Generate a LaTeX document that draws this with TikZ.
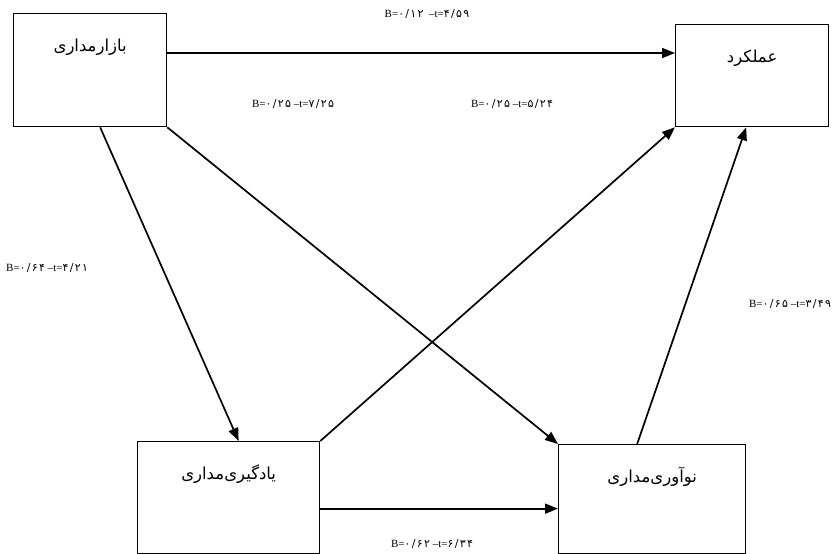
\documentclass[tikz,border=0pt]{standalone}
\usepackage{fontspec}
\setmainfont{Liberation Serif}
\newfontfamily\arabicfont[Script=Arabic]{DejaVu Sans}
\newfontfamily\digitfont[Script=Arabic,LetterSpace=12]{DejaVu Sans}
\TeXXeTstate=1
\usetikzlibrary{arrows.meta}
\newcommand\fa[1]{{\digitfont #1}}
\tikzset{
  box/.style={draw, line width=1.3pt, inner sep=0pt, anchor=north west,
    text height=38pt, font=\arabicfont\fontsize{16.5}{19}\selectfont},
  coef/.style={inner sep=0pt, font=\fontsize{11}{13}\selectfont},
  link/.style={-{Triangle[length=13pt,width=10pt]}, line width=1.7pt}
}
\begin{document}
\begin{tikzpicture}[x=1pt, y=-1pt]
  \useasboundingbox (0,0) rectangle (833,554);
  % Define boxes
  \node[box, minimum width=153pt, text depth=75pt] (market) at (13,13) {\beginR بازارمداری\endR};
  \node[box, minimum width=153pt, text depth=64pt] (perf) at (675,24) {\beginR عملکرد\endR};
  \node[box, minimum width=182pt, text depth=74pt] (learn) at (137,441) {\beginR یادگیری‌مداری\endR};
  \node[box, minimum width=187pt, text depth=71pt] (innov) at (558,444) {\beginR نوآوری‌مداری\endR};

  % Connect boxes with arrows
  \draw[link] ([yshift=-40pt]market.north east) -- ([yshift=-29pt]perf.north west);
  \draw[link] ([xshift=10pt]market.south) -- ([xshift=10pt]learn.north);
  \draw[link] (market.south east) -- (innov.north west);
  \draw[link] (learn.north east) -- (perf.south west);
  \draw[link] ([xshift=-15pt]innov.north) -- ([xshift=-6pt]perf.south);
  \draw[link] ([yshift=-11pt]learn.east) -- ([yshift=-11pt]learn.east -| innov.west);

  % Path coefficients
  \node[coef] (c1) at (427,14) {B=\fa{۰/۱۲}\ \ –t=\fa{۴/۵۹}};
  \node[coef] (c2) at (293,104) {B=\fa{۰/۲۵} –t=\fa{۷/۲۵}};
  \node[coef] (c3) at (512,104) {B=\fa{۰/۲۵} –t=\fa{۵/۲۴}};
  \node[coef, anchor=west] (c4) at (6,268) {B=\fa{۰/۶۴} –t=\fa{۴/۲۱}};
  \node[coef] (c5) at (790,304) {B=\fa{۰/۶۵} –t=\fa{۳/۴۹}};
  \node[coef] (c6) at (432,544) {B=\fa{۰/۶۲} –t=\fa{۶/۳۴}};
\end{tikzpicture}
\end{document}
